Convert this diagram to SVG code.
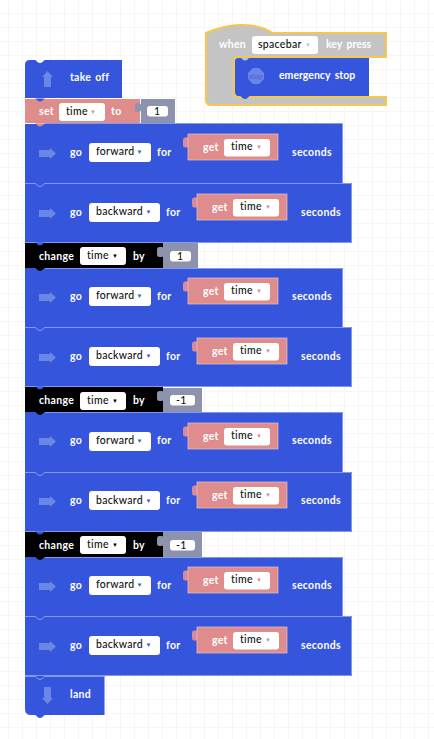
<svg xmlns="http://www.w3.org/2000/svg" width="434" height="739" viewBox="0 0 434 739">
<style>
text{font-family:"Lato","Noto Sans",sans-serif;font-size:10.5px;font-weight:700;fill:#fff;letter-spacing:.3px}
.d{fill:#111;font-weight:500}
.w{letter-spacing:0;word-spacing:2px}
.t{font-size:6px}
.b{fill:#3555dc}.p{fill:#df8c8c}.k{fill:#000}.g{fill:#8d93ad}
.f{fill:#fff}.l{stroke:#8199ef;stroke-width:1;fill:none}
.i{fill:#6c86e8}
</style>
<defs>
<pattern id="grid" width="14" height="14" patternUnits="userSpaceOnUse" x="8" y="13"><path d="M14 .5H.5V14" fill="none" stroke="#f6f6f8" stroke-width="1"/></pattern>
<path id="n" d="M-5 0Q-3.500 .5-2.500 2Q0 3.800 2.500 2Q3.500 .5 5 0Z"/>
<path id="arrR" class="i" d="M0-3.500H11V-5.500L17 0 11 5.500V3.500H0Z"/>
<g id="get"><path fill="#d78a9e" d="M0 3.500H-3Q-5 3.500-5 6V11Q-5 13.500-3 13.500H0Z"/><rect class="p" width="90" height="26" stroke="#e6c4d0" stroke-width=".7"/><text x="15" y="17">get</text><rect class="f" x="36" y="5" width="46" height="17.500" rx="3"/><text class="d" x="43" y="16">time</text><text class="t" x="68" y="15" style="fill:#df8c8c">▼</text></g>
</defs>
<rect width="434" height="739" fill="#fff"/>
<rect width="434" height="739" fill="url(#grid)"/>
<g id="connectors"></g>
<g id="hat"><path fill="#c4c4c4" stroke="#f5c84b" stroke-width="2" d="M206 33Q225 25 240 25Q262 25 272 33H386V57H238Q234 57 234 61V93Q234 97 238 97H386V105H211Q206 105 206 100Z"/><text x="219" y="48">when</text><rect class="f" x="252" y="36" width="66" height="18" rx="3"/><text class="d" x="258" y="48">spacebar</text><text class="t" x="305" y="47" style="fill:#c4c4c4">▼</text><text class="w" x="326" y="48">key press</text></g>
<g id="stop"><path class="b" d="M238 58H369V96H238Q235 96 235 92V61Q235 58 238 58Z"/><use href="#n" x="245" y="57.500" fill="#c4c4c4"/><use href="#n" x="245" y="96" class="b"/><path class="i" d="M253 68H259L264 73V79L259 84H253L248 79V73Z"/><text x="249" y="79" style="font-size:7px;fill:#5068dd;letter-spacing:0">stop</text><text class="w" x="279" y="79">emergency stop</text></g>
<g id="takeoff"><path class="b" d="M30 60H122V98H25V65Q25 60 30 60Z"/><use href="#n" x="40" y="60" fill="#fff"/><path class="i" d="M47.500 71 53 77H51V87H44V77H42Z"/><text class="w" style="word-spacing:1.500px;letter-spacing:.2px" x="70" y="81">take off</text></g>
<g id="set"><rect class="p" x="25" y="99" width="115" height="24"/><use href="#n" x="40" y="98.500" class="b"/><use href="#n" x="40" y="123.500" class="p"/><text x="39" y="115">set</text><rect class="f" x="59" y="103" width="46" height="18" rx="3"/><text class="d" x="66" y="115">time</text><text class="t" x="90" y="114" style="fill:#df8c8c">▼</text><text x="111" y="115">to</text><rect class="g" x="141" y="99" width="34" height="24"/><rect class="g" x="135" y="103" width="6" height="9" rx="2.500"/><rect class="f" x="147" y="106" width="21" height="10.500" rx="3"/><text class="d" x="154" y="115">1</text></g>

<g id="go1"><rect class="b" x="25" y="124" width="318" height="59"/><use href="#n" x="40" y="123.500" class="p"/><path class="l" d="M45 123.500H342.500V183"/><use href="#arrR" x="39" y="153.500"/><text x="70" y="156">go</text><rect class="f" x="89" y="143" width="62" height="19" rx="3"/><text class="d" x="96" y="155">forward</text><text class="t" x="136.500" y="154" style="fill:#3555dc">▼</text><text x="157" y="156">for</text><use href="#get" x="188" y="134"/><text x="292" y="156">seconds</text></g>
<g id="go2"><rect class="b" x="25" y="183" width="327" height="60"/><path class="l" d="M25 183.500H35Q37 184 38 186Q40 187 42 186Q43 184 45 183.500H351.500V242.500H25"/><use href="#arrR" x="39" y="213.500"/><text x="70" y="216">go</text><rect class="f" x="89" y="203" width="71" height="19" rx="3"/><text class="d" x="96" y="215">backward</text><text class="t" x="145.500" y="214" style="fill:#3555dc">▼</text><text x="166" y="216">for</text><use href="#get" x="197" y="194"/><text x="301" y="216">seconds</text></g>
<g id="chg1"><rect class="k" x="25" y="243" width="138" height="25"/><use href="#n" x="40" y="242.500" class="b"/><use href="#n" x="40" y="268" class="k"/><text x="39" y="260">change</text><rect class="f" x="80" y="247" width="46" height="18" rx="3"/><text class="d" x="87" y="259">time</text><text class="t" x="112" y="258" style="fill:#000">▼</text><text x="133" y="260">by</text><rect class="g" x="163" y="243" width="35" height="25"/><rect class="g" x="157" y="247" width="7" height="10" rx="2.500"/><rect class="f" x="170" y="251" width="21" height="10.500" rx="3"/><text class="d" x="177" y="260">1</text></g>

<g id="go3"><rect class="b" x="25" y="268" width="318" height="59"/><use href="#n" x="40" y="268" class="k"/><path class="l" d="M45 268.500H342.500V327"/><use href="#arrR" x="39" y="297.500"/><text x="70" y="300">go</text><rect class="f" x="89" y="287" width="62" height="19" rx="3"/><text class="d" x="96" y="299">forward</text><text class="t" x="136.500" y="298" style="fill:#3555dc">▼</text><text x="157" y="300">for</text><use href="#get" x="188" y="278"/><text x="292" y="300">seconds</text></g>
<g id="go4"><rect class="b" x="25" y="327" width="327" height="60"/><path class="l" d="M25 327.500H35Q37 328 38 330Q40 331 42 330Q43 328 45 327.500H351.500V386.500H25"/><use href="#arrR" x="39" y="357.500"/><text x="70" y="360">go</text><rect class="f" x="89" y="347" width="71" height="19" rx="3"/><text class="d" x="96" y="359">backward</text><text class="t" x="145.500" y="358" style="fill:#3555dc">▼</text><text x="166" y="360">for</text><use href="#get" x="197" y="338"/><text x="301" y="360">seconds</text></g>
<g id="chg2"><rect class="k" x="25" y="387" width="138" height="25"/><use href="#n" x="40" y="386.500" class="b"/><use href="#n" x="40" y="412" class="k"/><text x="39" y="404">change</text><rect class="f" x="80" y="392" width="46" height="18" rx="3"/><text class="d" x="87" y="404">time</text><text class="t" x="112" y="403" style="fill:#000">▼</text><text x="133" y="404">by</text><rect class="g" x="163" y="388" width="39" height="24"/><rect class="g" x="157" y="391" width="7" height="10" rx="2.500"/><rect class="f" x="170" y="395" width="25" height="10.500" rx="3"/><text class="d" x="176" y="404">-1</text></g>

<g id="go5"><rect class="b" x="25" y="412" width="318" height="60"/><use href="#n" x="40" y="412" class="k"/><path class="l" d="M45 412.500H342.500V472"/><use href="#arrR" x="39" y="441.500"/><text x="70" y="444">go</text><rect class="f" x="89" y="432" width="62" height="19" rx="3"/><text class="d" x="96" y="444">forward</text><text class="t" x="136.500" y="443" style="fill:#3555dc">▼</text><text x="157" y="444">for</text><use href="#get" x="188" y="423"/><text x="292" y="444">seconds</text></g>
<g id="go6"><rect class="b" x="25" y="472" width="327" height="60"/><path class="l" d="M25 472.500H35Q37 473 38 475Q40 476 42 475Q43 473 45 472.500H351.500V531.500H25"/><use href="#arrR" x="39" y="501.500"/><text x="70" y="504">go</text><rect class="f" x="89" y="491" width="71" height="19" rx="3"/><text class="d" x="96" y="504">backward</text><text class="t" x="145.500" y="503" style="fill:#3555dc">▼</text><text x="166" y="504">for</text><use href="#get" x="197" y="482"/><text x="301" y="504">seconds</text></g>
<g id="chg3"><rect class="k" x="25" y="532" width="138" height="25"/><use href="#n" x="40" y="531.500" class="b"/><use href="#n" x="40" y="557" class="k"/><text x="39" y="549">change</text><rect class="f" x="80" y="536" width="46" height="18" rx="3"/><text class="d" x="87" y="548">time</text><text class="t" x="112" y="547" style="fill:#000">▼</text><text x="133" y="549">by</text><rect class="g" x="163" y="532" width="39" height="25"/><rect class="g" x="157" y="536" width="7" height="10" rx="2.500"/><rect class="f" x="170" y="540" width="25" height="10.500" rx="3"/><text class="d" x="176" y="549">-1</text></g>

<g id="go7"><rect class="b" x="25" y="557" width="318" height="59"/><use href="#n" x="40" y="557" class="k"/><path class="l" d="M45 557.500H342.500V616"/><use href="#arrR" x="39" y="586.500"/><text x="70" y="589">go</text><rect class="f" x="89" y="576" width="62" height="19" rx="3"/><text class="d" x="96" y="588">forward</text><text class="t" x="136.500" y="587" style="fill:#3555dc">▼</text><text x="157" y="589">for</text><use href="#get" x="188" y="567"/><text x="292" y="589">seconds</text></g>
<g id="go8"><rect class="b" x="25" y="616" width="327" height="60"/><path class="l" d="M25 616.500H35Q37 617 38 619Q40 620 42 619Q43 617 45 616.500H351.500V675.500H25"/><use href="#arrR" x="39" y="646.500"/><text x="70" y="649">go</text><rect class="f" x="89" y="636" width="71" height="19" rx="3"/><text class="d" x="96" y="648">backward</text><text class="t" x="145.500" y="647" style="fill:#3555dc">▼</text><text x="166" y="649">for</text><use href="#get" x="197" y="627"/><text x="301" y="649">seconds</text></g>
<g id="land"><path class="b" d="M25 676H104.500V715H31Q25 715 25 709Z"/><use href="#n" x="40" y="715" class="b"/><path class="l" d="M25 676.500H35Q37 677 38 679Q40 680 42 679Q43 677 45 676.500H104"/><path class="i" d="M44 687H51V698H53L47.500 704 42 698H44Z"/><text x="70" y="698">land</text></g>
</svg>
